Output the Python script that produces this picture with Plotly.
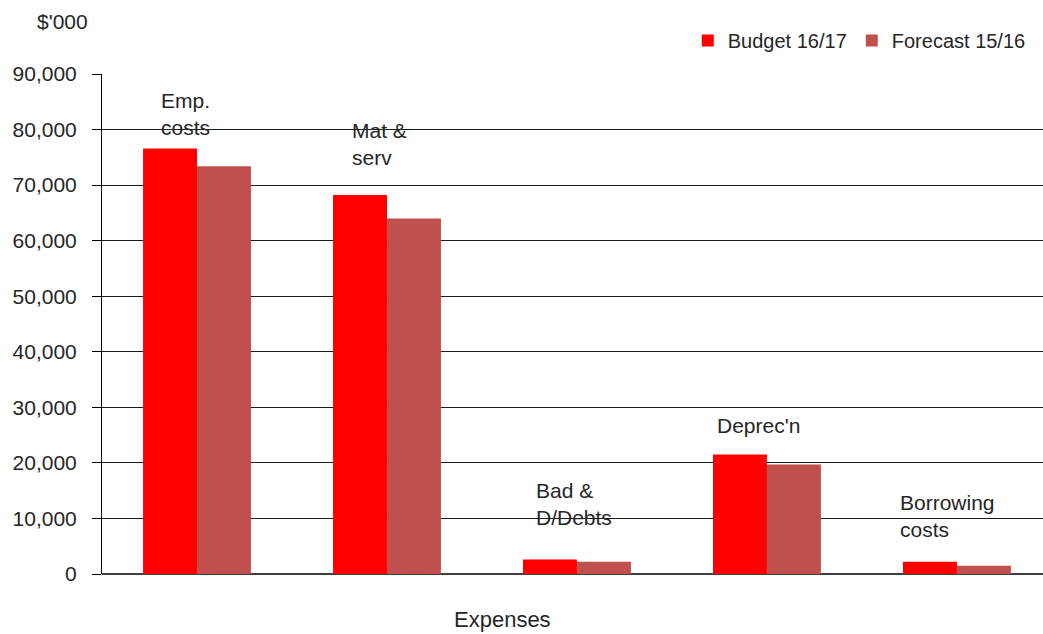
import plotly.graph_objects as go

categories = ["Emp.<br>costs", "Mat &<br>serv", "Bad &<br>D/Debts", "Deprec'n", "Borrowing<br>costs"]
budget_1617 = [76600, 68200, 2600, 21500, 2200]
forecast_1516 = [73400, 64000, 2200, 19700, 1500]
tick_vals = [0, 10000, 20000, 30000, 40000, 50000, 60000, 70000, 80000, 90000]
tick_text = ["0", "10,000", "20,000", "30,000", "40,000", "50,000", "60,000", "70,000", "80,000", "90,000"]
label_y = [87660, 82260, 17460, 29160, 15300]
label_dx = [-0.2, -0.195, -0.227, -0.274, -0.31]

FONT = "Liberation Sans, Arial, sans-serif"
TXT = "#262626"
idx = list(range(len(categories)))

fig = go.Figure()
fig.add_trace(go.Bar(x=idx, y=budget_1617, name="Budget 16/17",
                     marker=dict(color="#FF0000", line=dict(width=0))))
fig.add_trace(go.Bar(x=idx, y=forecast_1516, name="Forecast 15/16",
                     marker=dict(color="#C0504D", line=dict(width=0))))

for i, (lab, ly, dx) in enumerate(zip(categories, label_y, label_dx)):
    fig.add_annotation(x=i + dx, y=ly, text=lab, showarrow=False,
                       xanchor="left", yanchor="top", align="left",
                       font=dict(family=FONT, size=21, color=TXT))

fig.add_annotation(x=-0.0712, y=1.132, xref="paper", yref="paper", text="$'000",
                   showarrow=False, xanchor="left", yanchor="top",
                   font=dict(family=FONT, size=21, color=TXT))

fig.add_annotation(x=0.426, y=-0.062, xref="paper", yref="paper", text="Expenses",
                   showarrow=False, xanchor="center", yanchor="top",
                   font=dict(family=FONT, size=22, color=TXT))

fig.update_layout(
    width=1043, height=634,
    margin=dict(l=102, r=0, t=74, b=60),
    paper_bgcolor="white", plot_bgcolor="white",
    barmode="group", bargap=0.432, bargroupgap=0,
    font=dict(family=FONT, size=20, color=TXT),
    legend=dict(orientation="h", x=0.987, xanchor="right", y=0.967, yref="container",
                yanchor="top", font=dict(family=FONT, size=20, color=TXT),
                bgcolor="rgba(0,0,0,0)", traceorder="normal"),
    showlegend=True,
    xaxis=dict(range=[-0.5, 4.453], tickvals=idx, showticklabels=False,
               showgrid=False, zeroline=False, showline=False, ticks=""),
    yaxis=dict(range=[0, 90000], tickvals=tick_vals, ticktext=tick_text,
               showgrid=True, gridcolor="#1a1a1a", gridwidth=1,
               zeroline=True, zerolinecolor="#404040", zerolinewidth=2,
               showline=True, linecolor="black", linewidth=1,
               ticks="outside", ticklen=9, tickcolor="black",
               ticklabelstandoff=11,
               tickfont=dict(family=FONT, size=21, color=TXT)),
)

fig.write_html("out.html")
